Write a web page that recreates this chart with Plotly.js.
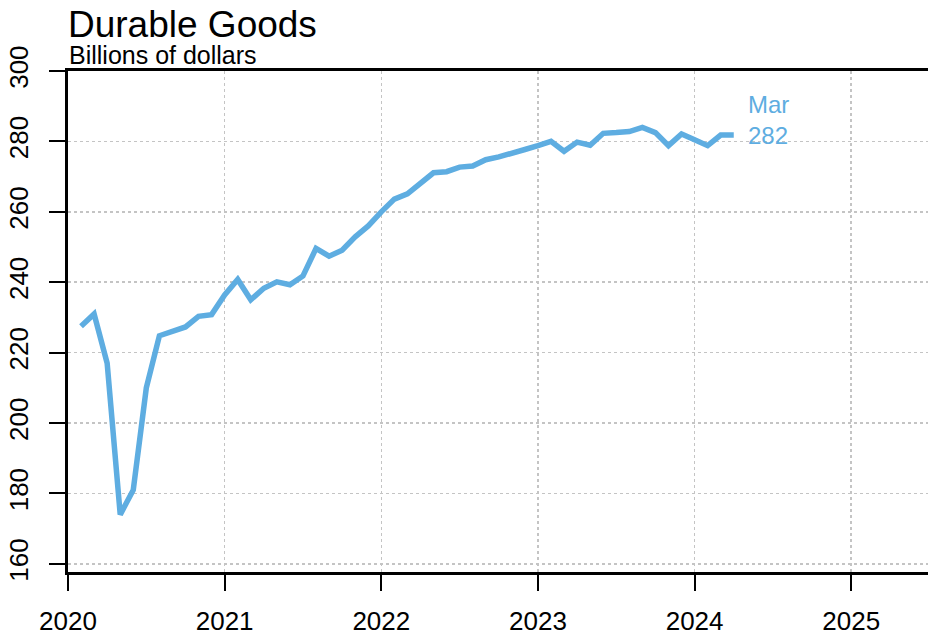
<!DOCTYPE html>
<html>
<head>
<meta charset="utf-8">
<script src="https://cdn.plot.ly/plotly-3.0.1.min.js"></script>
<style>
  html, body { margin: 0; padding: 0; background: #ffffff; }
  #chart { width: 928px; height: 636px; }
</style>
</head>
<body>
<div id="chart"></div>
<script>
// monthly values, billions of dollars, Jan 2020 .. Mar 2024
var start_year = 2020
var values_2020 = [227.5, 231.0, 217.0, 174.0, 181.0, 210.0, 224.8, 226.0, 227.3, 230.3, 230.8, 236.4]
var values_2021 = [240.8, 235.0, 238.3, 240.1, 239.3, 241.8, 249.6, 247.4, 249.1, 252.9, 256.0, 260.0]
var values_2022 = [263.6, 265.1, 268.3, 271.1, 271.4, 272.7, 273.0, 274.8, 275.6, 276.5, 277.7, 278.8]
var values_2023 = [280.0, 277.2, 279.8, 278.9, 282.3, 282.5, 282.8, 284.0, 282.5, 278.8, 282.1, 280.5]
var values_2024 = [278.8, 281.8, 281.8]
var year_ticks = [2020, 2021, 2022, 2023, 2024, 2025]
var value_ticks = [160, 180, 200, 220, 240, 260, 280, 300]
var last_label = 'Mar'

var line_color = '#5EADE1'
var font_family = '"Liberation Sans", Arial, Helvetica, sans-serif'

var values = [].concat(values_2020, values_2021, values_2022, values_2023, values_2024)
var xs = values.map(function (v, i) { return start_year + (i + 1) / 12 })
var last_x = xs[xs.length - 1]
var last_y = values[values.length - 1]

var trace = {
    type: 'scatter',
    mode: 'lines',
    x: xs,
    y: values,
    line: { color: line_color, width: 5.5 },
    hoverinfo: 'skip'
}

var layout = {
    width: 928,
    height: 636,
    margin: { l: 68, r: 0, t: 71, b: 64 },
    paper_bgcolor: '#ffffff',
    plot_bgcolor: '#ffffff',
    showlegend: false,
    font: { family: font_family, size: 26, color: '#000000' },
    xaxis: {
        range: [2020, 2025.49],
        tickvals: year_ticks,
        ticktext: year_ticks.map(String),
        ticks: 'outside', ticklen: 16, tickwidth: 2, tickcolor: '#000000',
        ticklabelstandoff: 8,
        showline: true, linecolor: '#000000', linewidth: 3, mirror: true,
        showgrid: true, gridcolor: '#c4c4c4', gridwidth: 1.5, griddash: 'dot',
        zeroline: false,
        tickfont: { size: 26, color: '#000000' }
    },
    yaxis: {
        range: [157.7, 300],
        tickvals: value_ticks,
        ticks: 'outside', ticklen: 16, tickwidth: 2, tickcolor: '#000000',
        tickangle: -90,
        ticklabelstandoff: 11,
        showline: true, linecolor: '#000000', linewidth: 3,
        showgrid: true, gridcolor: '#c4c4c4', gridwidth: 1.5, griddash: 'dot',
        zeroline: false,
        tickfont: { size: 26, color: '#000000' }
    },
    annotations: [
        {
            xref: 'paper', yref: 'paper', x: -0.002, y: 1.093,
            xanchor: 'left', yanchor: 'middle', showarrow: false,
            text: 'Durable Goods',
            font: { size: 37, color: '#000000' }
        },
        {
            xref: 'paper', yref: 'paper', x: -0.001, y: 1.032,
            xanchor: 'left', yanchor: 'middle', showarrow: false,
            text: 'Billions of dollars',
            font: { size: 25, color: '#000000' }
        },
        {
            xref: 'x', yref: 'y', x: last_x + 0.08, y: last_y + 4.3,
            xanchor: 'left', yanchor: 'middle', align: 'left', showarrow: false,
            text: last_label + '<br>' + Math.round(last_y),
            font: { size: 24, color: line_color }
        }
    ]
}

var config = { responsive: false, displayModeBar: false, staticPlot: true }

Plotly.newPlot('chart', [trace], layout, config)
</script>
</body>
</html>
